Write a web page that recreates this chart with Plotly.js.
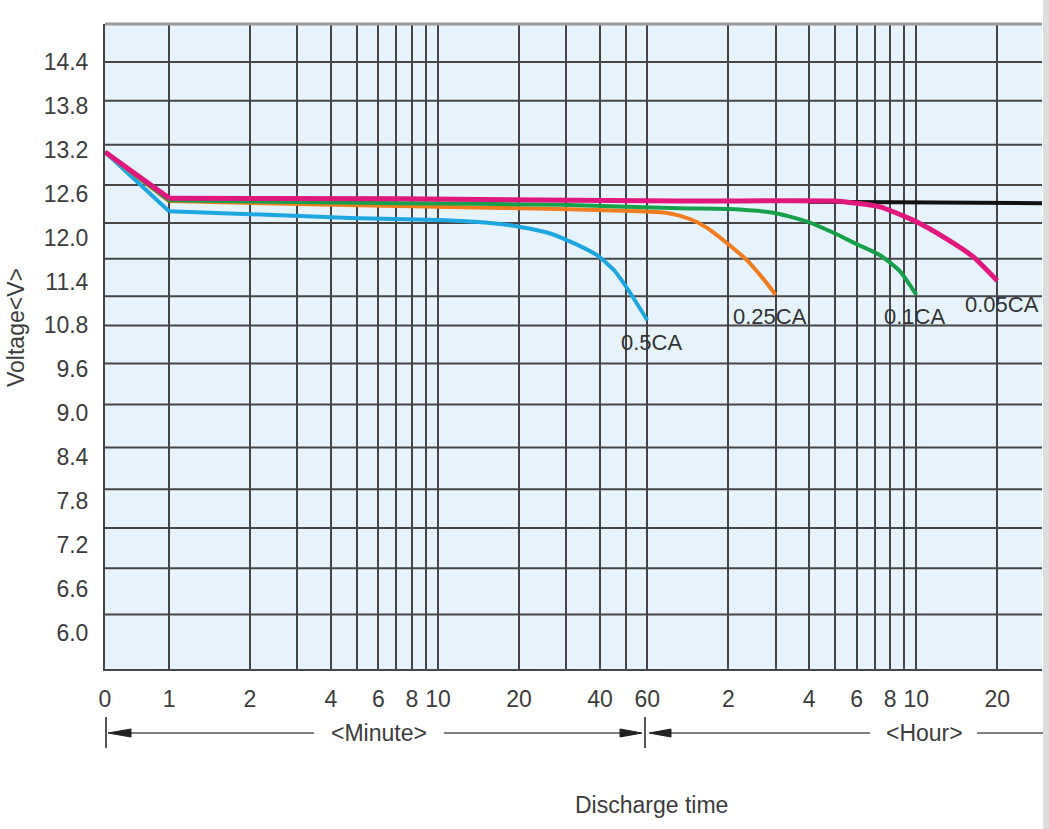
<!DOCTYPE html>
<html><head><meta charset="utf-8">
<script src="https://cdn.plot.ly/plotly-3.0.1.min.js"></script>
<style>html,body{margin:0;padding:0;background:#fff}#chart{width:1049px;height:829px}</style>
</head><body><div id="chart"></div>
<script>
// Discharge time in minutes, voltage in V
const t05  = [0, 1, 2, 4.7, 10, 15.6, 20, 25.4, 30, 39, 45.5, 51.7, 60];
const v05  = [13.17, 12.36, 12.32, 12.27, 12.24, 12.20, 12.15, 12.07, 11.97, 11.76, 11.54, 11.25, 10.87];
const t025 = [0, 1, 3, 11, 28, 56, 70, 79, 92, 105, 121, 141, 160, 180];
const v025 = [13.17, 12.50, 12.46, 12.42, 12.39, 12.36, 12.34, 12.30, 12.21, 12.08, 11.90, 11.69, 11.46, 11.22];
const t01  = [0, 1, 7.2, 29, 79, 121, 176, 240, 294, 361, 440, 522, 600];
const v01  = [13.17, 12.51, 12.47, 12.45, 12.40, 12.39, 12.34, 12.21, 12.07, 11.91, 11.76, 11.54, 11.22];
const t005 = [0, 1, 7.2, 79, 294, 360, 440, 583, 780, 975, 1200];
const v005 = [13.17, 12.54, 12.53, 12.50, 12.50, 12.47, 12.42, 12.24, 11.98, 11.74, 11.41];
const tBlack = [240, 1760];
const vBlack = [12.49, 12.47];

const curveLabels = ['0.5CA', '0.25CA', '0.1CA', '0.05CA'];
const curveColors = ['#1ea6e0', '#ef7d1f', '#17a04c', '#e0177d'];

// x tick labels (minutes then hours) and grid positions (minutes)
const xTickMinutes = [0, 1, 2, 4, 6, 8, 10, 20, 40, 60, 120, 240, 360, 480, 600, 1200];
const xTickText    = ['0', '1', '2', '4', '6', '8', '10', '20', '40', '60', '2', '4', '6', '8', '10', '20'];
const xGridMinutes = [1, 2, 3, 4, 5, 6, 7, 8, 9, 10, 20, 30, 40, 50, 60, 120, 180, 240, 300, 360, 420, 480, 540, 600, 1200];

// y tick labels as printed (evenly spaced) and the printed horizontal grid rules
const yTickText = ['14.4', '13.8', '13.2', '12.6', '12.0', '11.4', '10.8', '9.6', '9.0', '8.4', '7.8', '7.2', '6.6', '6.0'];
const yGridVals = [14.4, 13.87, 13.27, 12.72, 12.20, 11.71, 11.20, 10.80, 10.28, 9.72, 9.13, 8.56, 8.03, 7.48, 6.85];

// axis scale: linear from 0 to 1 min, logarithmic after
const U0 = -0.238;
function u(t) { return t >= 1 ? Math.log10(t) : U0 * (1 - t); }
const xMaxMin = 1760;

const yTickVals = yTickText.map((s, i) => 14.4 - i * 0.6);
const xTickVals = [], xTickLabels = [];
const allX = Array.from(new Set(xTickMinutes.concat(xGridMinutes))).sort((a, b) => a - b);
allX.forEach(m => {
  xTickVals.push(u(m));
  const k = xTickMinutes.indexOf(m);
  xTickLabels.push(k >= 0 ? xTickText[k] : '');
});

const series = [[t05, v05], [t025, v025], [t01, v01], [t005, v005]];
const traces = [{
  x: tBlack.map(u), y: vBlack, mode: 'lines', line: {color: '#111', width: 4}, hoverinfo: 'skip'
}];
series.forEach((s, i) => {
  const w = i === 3 ? 5 : 4;
  // straight initial drop (0 -> 1 min)
  traces.push({x: s[0].slice(0, 2).map(u), y: s[1].slice(0, 2), mode: 'lines', name: curveLabels[i],
    line: {color: curveColors[i], width: w}});
  // smooth discharge curve from 1 min on
  traces.push({x: s[0].slice(1).map(u), y: s[1].slice(1), mode: 'lines', name: curveLabels[i],
    line: {color: curveColors[i], width: w, shape: 'spline', smoothing: 0.6}});
});

const FONT = 'Liberation Sans, Arial, sans-serif';
const TXT = '#3c3c3c';
// pixel -> paper helpers for annotation/ornament placement
const PL = 105, PR = 1042, PT = 24, PB = 669;
const px = x => (x - PL) / (PR - PL);
const py = y => (PB - y) / (PB - PT);

const shapes = [];
yGridVals.forEach(v => shapes.push({type: 'line', xref: 'paper', yref: 'y', x0: 0, x1: 1, y0: v, y1: v,
  line: {color: '#454545', width: 2}, layer: 'below'}));
// top border
shapes.push({type: 'line', xref: 'paper', yref: 'paper', x0: 0, x1: 1, y0: 1, y1: 1, line: {color: '#9a9a9a', width: 3}});
// right grey band
shapes.push({type: 'rect', xref: 'paper', yref: 'paper', x0: px(1043), x1: px(1050), y0: py(830), y1: py(-1),
  fillcolor: '#dedede', line: {width: 0}});
// range brackets below the axis
const ay = py(733);
const bars = [106, 645];
bars.forEach(b => shapes.push({type: 'line', xref: 'paper', yref: 'paper', x0: px(b), x1: px(b), y0: py(717), y1: py(748),
  line: {color: '#555', width: 2}}));
[[130, 314], [444, 622], [668, 870], [977, 1043]].forEach(seg => shapes.push({type: 'line', xref: 'paper', yref: 'paper',
  x0: px(seg[0]), x1: px(seg[1]), y0: ay, y1: ay, line: {color: '#555', width: 1.5}}));
function tri(tip, base) {
  return `M ${px(tip)} ${ay} L ${px(base)} ${py(729)} L ${px(base)} ${py(737)} Z`;
}
[[108, 131], [642, 620], [649, 671]].forEach(a => shapes.push({type: 'path', xref: 'paper', yref: 'paper',
  path: tri(a[0], a[1]), fillcolor: '#222', line: {color: '#222', width: 1}}));

const annotations = [];
const labelPos = [[651, 342], [770, 316], [914, 316], [1002, 304]];
curveLabels.forEach((c, i) => annotations.push({text: c, xref: 'paper', yref: 'paper', x: px(labelPos[i][0]), y: py(labelPos[i][1]),
  showarrow: false, xanchor: 'center', yanchor: 'middle', font: {family: FONT, size: 22, color: '#333'}}));
annotations.push({text: '&lt;Minute&gt;', xref: 'paper', yref: 'paper', x: px(379), y: ay, showarrow: false,
  xanchor: 'center', yanchor: 'middle', font: {family: FONT, size: 23, color: TXT}});
annotations.push({text: '&lt;Hour&gt;', xref: 'paper', yref: 'paper', x: px(924), y: ay, showarrow: false,
  xanchor: 'center', yanchor: 'middle', font: {family: FONT, size: 23, color: TXT}});
annotations.push({text: 'Discharge time', xref: 'paper', yref: 'paper', x: px(651), y: py(805), showarrow: false,
  xanchor: 'center', yanchor: 'middle', font: {family: FONT, size: 23, color: TXT}});
annotations.push({text: 'Voltage&lt;V&gt;', xref: 'paper', yref: 'paper', x: px(16), y: py(328), showarrow: false,
  textangle: -90, xanchor: 'center', yanchor: 'middle', font: {family: FONT, size: 23, color: TXT}});

const layout = {
  width: 1049, height: 829,
  margin: {l: PL, r: 1049 - PR, t: PT, b: 829 - PB, pad: 0},
  paper_bgcolor: '#ffffff', plot_bgcolor: '#e6f3fc',
  showlegend: false,
  xaxis: {
    range: [U0, Math.log10(xMaxMin)], tickvals: xTickVals, ticktext: xTickLabels,
    showgrid: true, gridcolor: '#454545', gridwidth: 2, zeroline: false,
    showline: true, linecolor: '#454545', linewidth: 2, ticks: '', ticklabelstandoff: 8,
    tickfont: {family: FONT, size: 23, color: TXT}, fixedrange: true
  },
  yaxis: {
    range: [6.104, 14.92], tickvals: yTickVals, ticktext: yTickText,
    showgrid: false, zeroline: false, showline: true, linecolor: '#454545', linewidth: 2,
    ticks: '', ticklabelstandoff: 10,
    tickfont: {family: FONT, size: 23, color: TXT}, fixedrange: true
  },
  shapes: shapes, annotations: annotations
};

Plotly.newPlot('chart', traces, layout, {displayModeBar: false, staticPlot: true});
</script>
</body></html>
